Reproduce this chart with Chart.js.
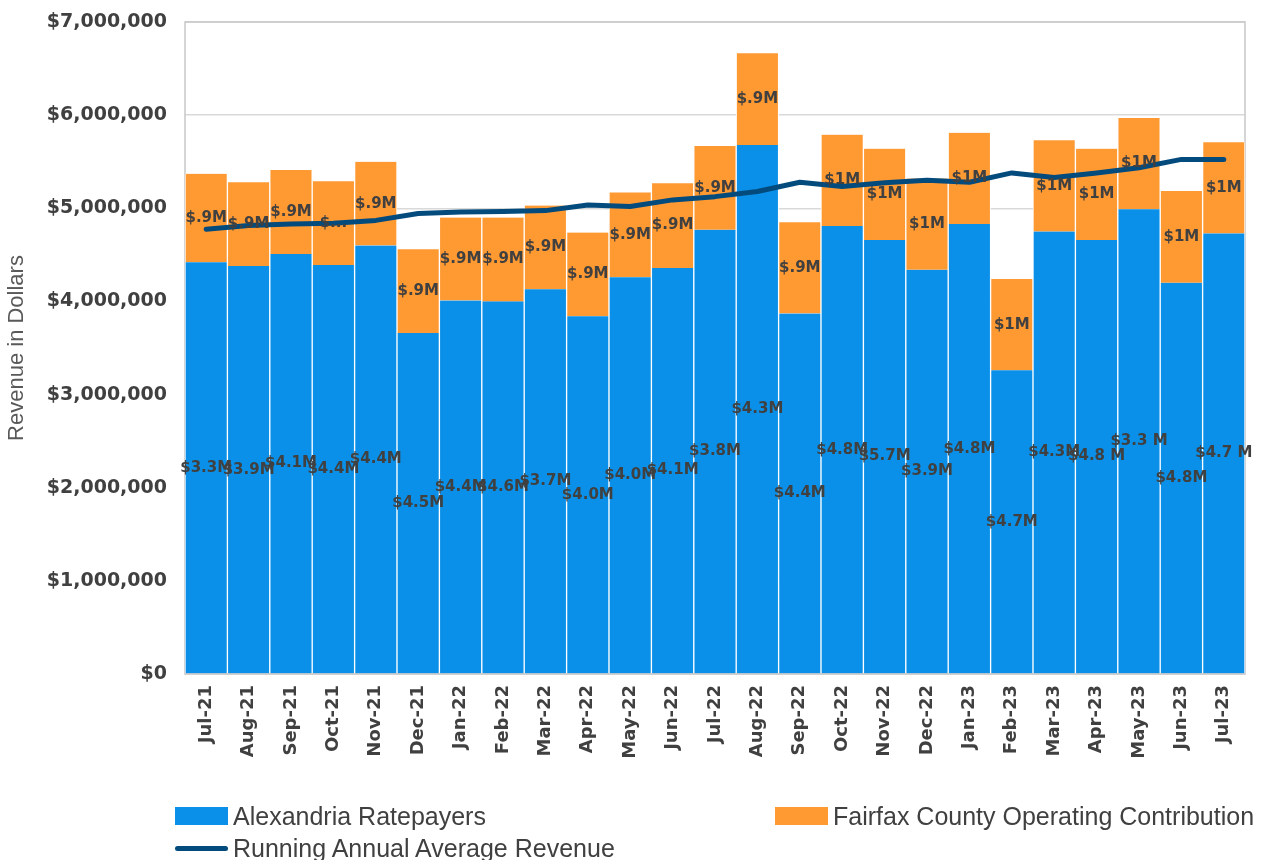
<!DOCTYPE html>
<html>
<head>
<meta charset="utf-8">
<script src="https://cdn.jsdelivr.net/npm/chart.js@4.4.1/dist/chart.umd.min.js"></script>
<style>
  html, body { margin: 0; padding: 0; background: #fff; }
  #wrap { position: relative; width: 1272px; height: 860px; overflow: hidden; }
  #legend {
    position: absolute; left: 175px; top: 802px; width: 1097px;
    display: grid; grid-template-columns: 600px 497px; row-gap: 4px;
    font-family: "Liberation Sans", Arial, sans-serif; font-size: 25px; color: #404040;
  }
  .item { display: flex; align-items: center; height: 28px; white-space: nowrap; }
  .swatch { width: 53px; height: 18px; margin-right: 5px; }
  .lineSw { width: 53px; height: 5px; border-radius: 3px; margin-right: 5px; }
</style>
</head>
<body>
<div id="wrap">
  <canvas id="chart" width="1272" height="860"></canvas>
  <div id="legend"></div>
</div>
<script>
const months = ['Jul-21','Aug-21','Sep-21','Oct-21','Nov-21','Dec-21','Jan-22','Feb-22','Mar-22','Apr-22',
  'May-22','Jun-22','Jul-22','Aug-22','Sep-22','Oct-22','Nov-22','Dec-22','Jan-23','Feb-23',
  'Mar-23','Apr-23','May-23','Jun-23','Jul-23'];

// Alexandria Ratepayers (blue, bottom of stack)
const ratepayers = [4.42e6, 4.38e6, 4.51e6, 4.39e6, 4.60e6, 3.66e6, 4.01e6, 4.00e6, 4.13e6, 3.84e6,
  4.26e6, 4.36e6, 4.77e6, 5.68e6, 3.87e6, 4.81e6, 4.66e6, 4.34e6, 4.83e6, 3.26e6,
  4.75e6, 4.66e6, 4.99e6, 4.20e6, 4.73e6];

// Fairfax County Operating Contribution (orange, on top)
const fairfax = [0.95e6, 0.90e6, 0.90e6, 0.90e6, 0.90e6, 0.90e6, 0.89e6, 0.90e6, 0.90e6, 0.90e6,
  0.91e6, 0.91e6, 0.90e6, 0.985e6, 0.98e6, 0.98e6, 0.98e6, 0.98e6, 0.98e6, 0.98e6,
  0.98e6, 0.98e6, 0.98e6, 0.985e6, 0.98e6];

// Running Annual Average Revenue
const runningAvg = [4.775e6, 4.815e6, 4.83e6, 4.84e6, 4.87e6, 4.945e6, 4.96e6, 4.965e6, 4.975e6, 5.035e6,
  5.02e6, 5.09e6, 5.125e6, 5.18e6, 5.28e6, 5.235e6, 5.275e6, 5.30e6, 5.28e6, 5.38e6,
  5.33e6, 5.38e6, 5.435e6, 5.525e6, 5.525e6];

// data label texts as printed on the original chart
const ratepayerLabels = ['$3.3M','$3.9M','$4.1M','$4.4M','$4.4M','$4.5M','$4.4M','$4.6M','$3.7M','$4.0M',
  '$4.0M','$4.1M','$3.8M','$4.3M','$4.4M','$4.8M','$5.7M','$3.9M','$4.8M','$4.7M',
  '$4.3M','$4.8 M','$3.3 M','$4.8M','$4.7 M'];
const fairfaxLabels = ['$.9M','$.9M','$.9M','$...','$.9M','$.9M','$.9M','$.9M','$.9M','$.9M',
  '$.9M','$.9M','$.9M','$.9M','$.9M','$1M','$1M','$1M','$1M','$1M',
  '$1M','$1M','$1M','$1M','$1M'];

const yTicks = [0, 1e6, 2e6, 3e6, 4e6, 5e6, 6e6, 7e6];

const BLUE = '#0A90E8';
const ORANGE = '#FF9A33';
const NAVY = '#044B7D';
const TEXT = '#404040';

// frame round the plot area
const framePlugin = {
  id: 'frame',
  beforeDatasetsDraw(chart) {
    const a = chart.chartArea, ctx = chart.ctx;
    ctx.save();
    ctx.strokeStyle = '#c8c8c8';
    ctx.lineWidth = 1.5;
    ctx.strokeRect(a.left, a.top, a.right - a.left, a.bottom - a.top);
    ctx.restore();
  }
};

// labels in the middle of each stacked segment
const segLabels = {
  id: 'segLabels',
  afterDatasetsDraw(chart) {
    const ctx = chart.ctx;
    const sets = [[0, ratepayerLabels], [1, fairfaxLabels]];
    ctx.save();
    ctx.font = 'bold 15px "DejaVu Sans", sans-serif';
    ctx.fillStyle = TEXT;
    ctx.textAlign = 'center';
    ctx.textBaseline = 'middle';
    sets.forEach(([di, texts]) => {
      chart.getDatasetMeta(di).data.forEach((el, i) => {
        ctx.fillText(texts[i], el.x, (el.y + el.base) / 2);
      });
    });
    ctx.restore();
  }
};

const chart = new Chart(document.getElementById('chart'), {
  data: {
    labels: months,
    datasets: [
      {
        type: 'bar', label: 'Alexandria Ratepayers', data: ratepayers,
        backgroundColor: BLUE, borderColor: '#ffffff',
        borderWidth: {left: 1, right: 1, top: 0, bottom: 0},
        stack: 'rev', order: 1
      },
      {
        type: 'bar', label: 'Fairfax County Operating Contribution', data: fairfax,
        backgroundColor: ORANGE, borderColor: '#ffffff',
        borderWidth: {left: 1, right: 1, top: 0, bottom: 0},
        stack: 'rev', order: 2
      },
      {
        type: 'line', label: 'Running Annual Average Revenue', data: runningAvg,
        borderColor: NAVY, backgroundColor: NAVY, borderWidth: 5,
        borderCapStyle: 'round', borderJoinStyle: 'round',
        pointRadius: 0, tension: 0, stack: 'avg', order: 0
      }
    ]
  },
  options: {
    responsive: false,
    animation: false,
    datasets: { bar: { barPercentage: 1, categoryPercentage: 1 } },
    layout: { padding: { top: 22, right: 27, bottom: 66, left: 0 } },
    plugins: {
      legend: { display: false },
      tooltip: { enabled: false }
    },
    scales: {
      x: {
        stacked: true,
        grid: { display: false, drawTicks: false },
        border: { display: false },
        ticks: {
          minRotation: 90, maxRotation: 90, padding: 11, color: TEXT,
          font: { family: '"DejaVu Sans", sans-serif', size: 18, weight: 'bold' }
        },
        afterFit(s) { s.height = 120; }
      },
      y: {
        stacked: true,
        min: 0, max: 7e6,
        afterBuildTicks(s) { s.ticks = yTicks.map(v => ({ value: v })); },
        grid: { color: '#d9d9d9', lineWidth: 1.5, drawTicks: false },
        border: { display: false },
        ticks: {
          padding: 18, color: TEXT,
          font: { family: '"DejaVu Sans", sans-serif', size: 19, weight: 'bold' },
          callback: v => '$' + Number(v).toLocaleString('en-US')
        },
        title: {
          display: true, text: 'Revenue in Dollars', color: '#595959',
          font: { family: '"Liberation Sans", Arial, sans-serif', size: 22 },
          padding: { top: 4, bottom: 4 }
        },
        afterFit(s) {
          s.width = 185;
          s.paddingTop = 0;
          s.paddingBottom = 0;
        }
      }
    }
  },
  plugins: [framePlugin, segLabels]
});

// html legend from the dataset settings
const legend = document.getElementById('legend');
chart.data.datasets.forEach(ds => {
  const item = document.createElement('div');
  item.className = 'item';
  const sw = document.createElement('span');
  sw.className = ds.type === 'line' ? 'lineSw' : 'swatch';
  sw.style.background = ds.backgroundColor;
  item.appendChild(sw);
  item.appendChild(document.createTextNode(ds.label));
  legend.appendChild(item);
});
</script>
</body>
</html>
